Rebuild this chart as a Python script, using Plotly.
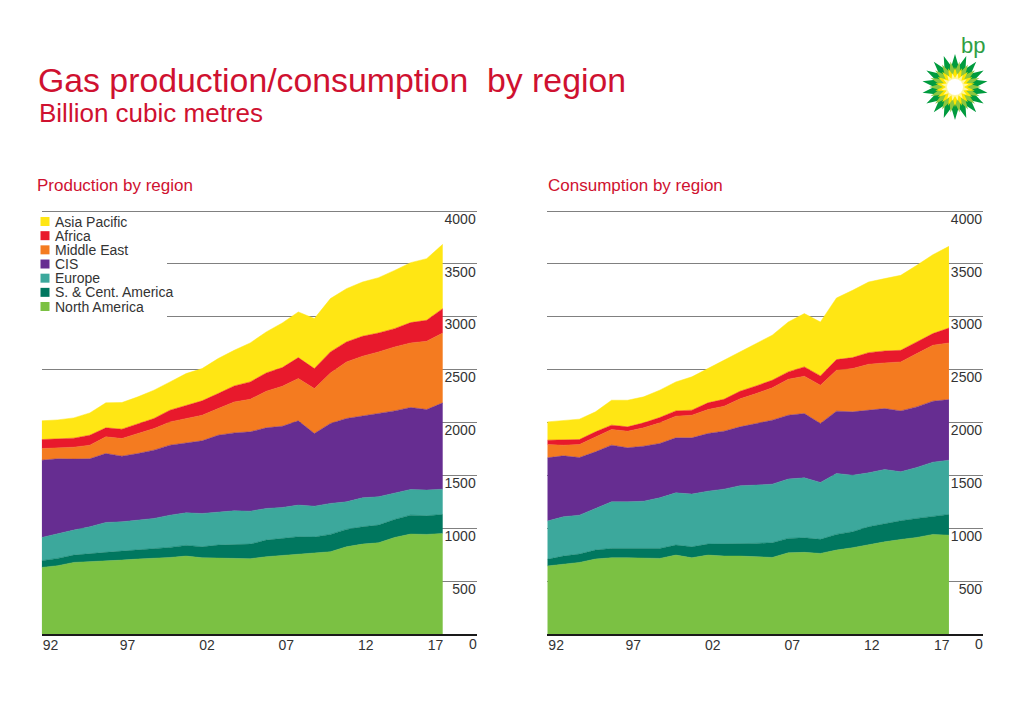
import math
import plotly.graph_objects as go

# ---------------- data (billion cubic metres) ----------------
years = list(range(1992, 2018))
tick_years = [1992, 1997, 2002, 2007, 2012, 2017]
tick_text = ["92", "97", "02", "07", "12", "17"]
y_ticks = [500, 1000, 1500, 2000, 2500, 3000, 3500, 4000]

regions = ["North America", "S. & Cent. America", "Europe", "CIS",
           "Middle East", "Africa", "Asia Pacific"]
region_colors = ["#7bc143", "#00775f", "#3ca89c", "#662d91",
                 "#f47b20", "#e8192c", "#ffe614"]

# Production
prod_north_america = [630, 646, 677, 683, 690, 699, 709, 715, 724, 737, 721, 718, 712,
                      712, 731, 743, 756, 762, 778, 825, 850, 863, 913, 945, 942, 951]
prod_sc_america = [63, 69, 69, 79, 82, 85, 85, 88, 95, 101, 104, 123, 135,
                   138, 157, 161, 164, 155, 164, 164, 164, 167, 170, 179, 176, 180]
prod_europe = [220, 236, 237, 252, 283, 277, 283, 290, 305, 308, 315, 315, 318,
               312, 299, 293, 299, 292, 293, 261, 274, 268, 252, 243, 243, 239]
prod_cis = [731, 706, 671, 643, 652, 621, 630, 646, 662, 662, 687, 724, 737,
            750, 763, 768, 797, 687, 756, 788, 772, 787, 775, 775, 762, 816]
prod_middle_east = [110, 107, 113, 129, 158, 167, 189, 204, 220, 230, 242, 252, 293,
                    308, 346, 378, 400, 425, 478, 535, 567, 583, 605, 611, 646, 661]
prod_africa = [85, 82, 85, 94, 85, 88, 95, 95, 111, 126, 136, 142, 151,
               164, 173, 177, 198, 189, 199, 189, 189, 179, 173, 192, 198, 230]
prod_asia_pacific = [177, 179, 192, 211, 236, 252, 252, 268, 267, 299, 305, 331, 337,
                     369, 388, 422, 432, 473, 504, 504, 513, 523, 551, 567, 583, 608]

# Consumption
cons_north_america = [643, 661, 677, 709, 721, 721, 715, 715, 746, 721, 746, 737, 737,
                      731, 724, 768, 772, 762, 794, 816, 847, 872, 894, 913, 942, 935]
cons_sc_america = [63, 76, 79, 85, 88, 88, 94, 94, 95, 104, 104, 113, 120,
                   126, 139, 136, 138, 133, 148, 151, 167, 174, 177, 180, 173, 196]
cons_europe = [362, 372, 368, 393, 441, 441, 447, 479, 494, 498, 501, 520, 546,
               551, 554, 561, 567, 538, 576, 535, 510, 510, 463, 482, 510, 513]
cons_cis = [598, 576, 545, 536, 536, 511, 520, 514, 520, 532, 545, 548, 556,
            583, 605, 604, 608, 558, 589, 599, 593, 576, 576, 573, 577, 573]
cons_middle_east = [126, 101, 123, 142, 148, 157, 174, 195, 205, 214, 227, 236, 265,
                    283, 306, 340, 353, 362, 387, 409, 434, 432, 463, 504, 529, 536]
cons_africa = [41, 53, 47, 47, 41, 41, 47, 50, 50, 48, 63, 66, 72,
               72, 72, 70, 88, 88, 101, 104, 110, 113, 110, 110, 110, 141]
cons_asia_pacific = [173, 183, 193, 189, 236, 252, 246, 259, 274, 315, 324, 369, 372,
                     401, 426, 472, 504, 510, 583, 636, 668, 684, 709, 725, 746, 772]

production = [prod_north_america, prod_sc_america, prod_europe, prod_cis,
              prod_middle_east, prod_africa, prod_asia_pacific]
consumption = [cons_north_america, cons_sc_america, cons_europe, cons_cis,
               cons_middle_east, cons_africa, cons_asia_pacific]

# ---------------- layout helpers ----------------
W, H = 1024, 704
FONT = "Liberation Sans, Arial, sans-serif"
RED = "#cf1130"
TXT = "#333333"


def px(x):
    return x / W


def py(y):
    return 1 - y / H


fig = go.Figure()

for data, xa, ya, grp in [(production, "x", "y", "p"), (consumption, "x2", "y2", "c")]:
    for name, col, vals in zip(regions, region_colors, data):
        fig.add_trace(go.Scatter(
            x=years, y=vals, name=name, mode="lines", stackgroup=grp,
            line=dict(width=0.5, color=col), fillcolor=col,
            xaxis=xa, yaxis=ya, showlegend=False, hoverinfo="x+y+name"))

y_dom = [py(634), py(210)]
x_range = [1992, 2019.12]
tick_shift = [0.55, 0.35, 0.3, 0.25, 0.2, -0.45]
tickpos = [t + s for t, s in zip(tick_years, tick_shift)]

xcommon = dict(range=x_range, showgrid=False, zeroline=False, showline=True,
               linecolor="#1a1a1a", linewidth=2, ticks="", tickvals=tickpos,
               ticktext=tick_text, tickfont=dict(family=FONT, size=14, color=TXT),
               ticklabelstandoff=-3, fixedrange=True)
ycommon = dict(range=[0, 4010], side="right", ticklabelposition="inside bottom",
               tickvals=y_ticks, showgrid=True, gridcolor="#808080", gridwidth=1,
               zeroline=False, showline=False, ticks="", ticklabelshift=-2,
               ticklabelstandoff=-2,
               tickfont=dict(family=FONT, size=14, color=TXT), fixedrange=True)

fig.update_layout(
    width=W, height=H, autosize=False,
    margin=dict(l=0, r=0, t=0, b=0),
    paper_bgcolor="white", plot_bgcolor="white",
    font=dict(family=FONT, color=TXT),
    xaxis=dict(domain=[px(41.7), px(476.7)], anchor="y", **xcommon),
    yaxis=dict(domain=y_dom, anchor="x", **ycommon),
    xaxis2=dict(domain=[px(547.3), px(983)], anchor="y2", **xcommon),
    yaxis2=dict(domain=y_dom, anchor="x2", **ycommon),
    showlegend=False,
)

ann = []
shapes = []

# titles
ann.append(dict(text="Gas production/consumption  by region", x=px(36), y=py(80),
                xref="paper", yref="paper", xanchor="left", yanchor="middle",
                showarrow=False, font=dict(family=FONT, size=33.8, color=RED)))
ann.append(dict(text="Billion cubic metres", x=px(37), y=py(113),
                xref="paper", yref="paper", xanchor="left", yanchor="middle",
                showarrow=False, font=dict(family=FONT, size=26, color=RED)))
ann.append(dict(text="Production by region", x=px(35), y=py(186),
                xref="paper", yref="paper", xanchor="left", yanchor="middle",
                showarrow=False, font=dict(family=FONT, size=17, color=RED)))
ann.append(dict(text="Consumption by region", x=px(546), y=py(186),
                xref="paper", yref="paper", xanchor="left", yanchor="middle",
                showarrow=False, font=dict(family=FONT, size=17, color=RED)))

# "0" labels under the baseline
for xr in ["x", "x2"]:
    ann.append(dict(text="0", x=x_range[1], y=0, xref=xr, yref="y" if xr == "x" else "y2",
                    xanchor="right", yanchor="top", xshift=2, yshift=0, showarrow=False,
                    font=dict(family=FONT, size=14, color=TXT)))

# white box behind legend (hides grid lines)
shapes.append(dict(type="rect", xref="paper", yref="paper",
                   x0=px(38), x1=px(167), y0=py(322), y1=py(214),
                   fillcolor="white", line=dict(width=0), layer="above"))

# manual legend
leg_y0, leg_dy = 221.5, 14.17
for i, (name, col) in enumerate(zip(regions[::-1], region_colors[::-1])):
    yc = leg_y0 + i * leg_dy
    shapes.append(dict(type="rect", xref="paper", yref="paper",
                       x0=px(40.5), x1=px(49.5), y0=py(yc + 4.5), y1=py(yc - 4.5),
                       fillcolor=col, line=dict(width=0), layer="above"))
    ann.append(dict(text=name, x=px(53), y=py(yc), xref="paper", yref="paper",
                    xanchor="left", yanchor="middle", showarrow=False,
                    font=dict(family=FONT, size=14, color=TXT)))

# bp logo (decorative)
cx, cy = 955, 87


def star_path(n, r_out, r_in, rot):
    pts = []
    for k in range(2 * n):
        r = r_out if k % 2 == 0 else r_in
        a = rot + math.pi * k / n
        pts.append((px(cx + r * math.cos(a)), py(cy + r * math.sin(a))))
    return "M " + " L ".join(f"{x:.5f},{y:.5f}" for x, y in pts) + " Z"


for n, ro, ri, rot, col in [(18, 33, 21, -math.pi / 2, "#009b3e"),
                            (18, 26, 16, -math.pi / 2 + math.pi / 18, "#8cc63f"),
                            (18, 20, 12, -math.pi / 2, "#ffe600"),
                            (16, 14, 9, -math.pi / 2 + math.pi / 16, "#fff7a0")]:
    shapes.append(dict(type="path", xref="paper", yref="paper", path=star_path(n, ro, ri, rot),
                       fillcolor=col, line=dict(width=0), layer="above"))
shapes.append(dict(type="circle", xref="paper", yref="paper",
                   x0=px(cx - 8), x1=px(cx + 8), y0=py(cy + 8), y1=py(cy - 8),
                   fillcolor="white", line=dict(width=0), layer="above"))
ann.append(dict(text="bp", x=px(973), y=py(45), xref="paper", yref="paper",
                xanchor="center", yanchor="middle", showarrow=False,
                font=dict(family=FONT, size=22, color="#2f9e44")))

fig.update_layout(annotations=ann, shapes=shapes)
fig.write_html("out.html", config={"displayModeBar": False},
               post_script="document.body.style.margin='0px';")
